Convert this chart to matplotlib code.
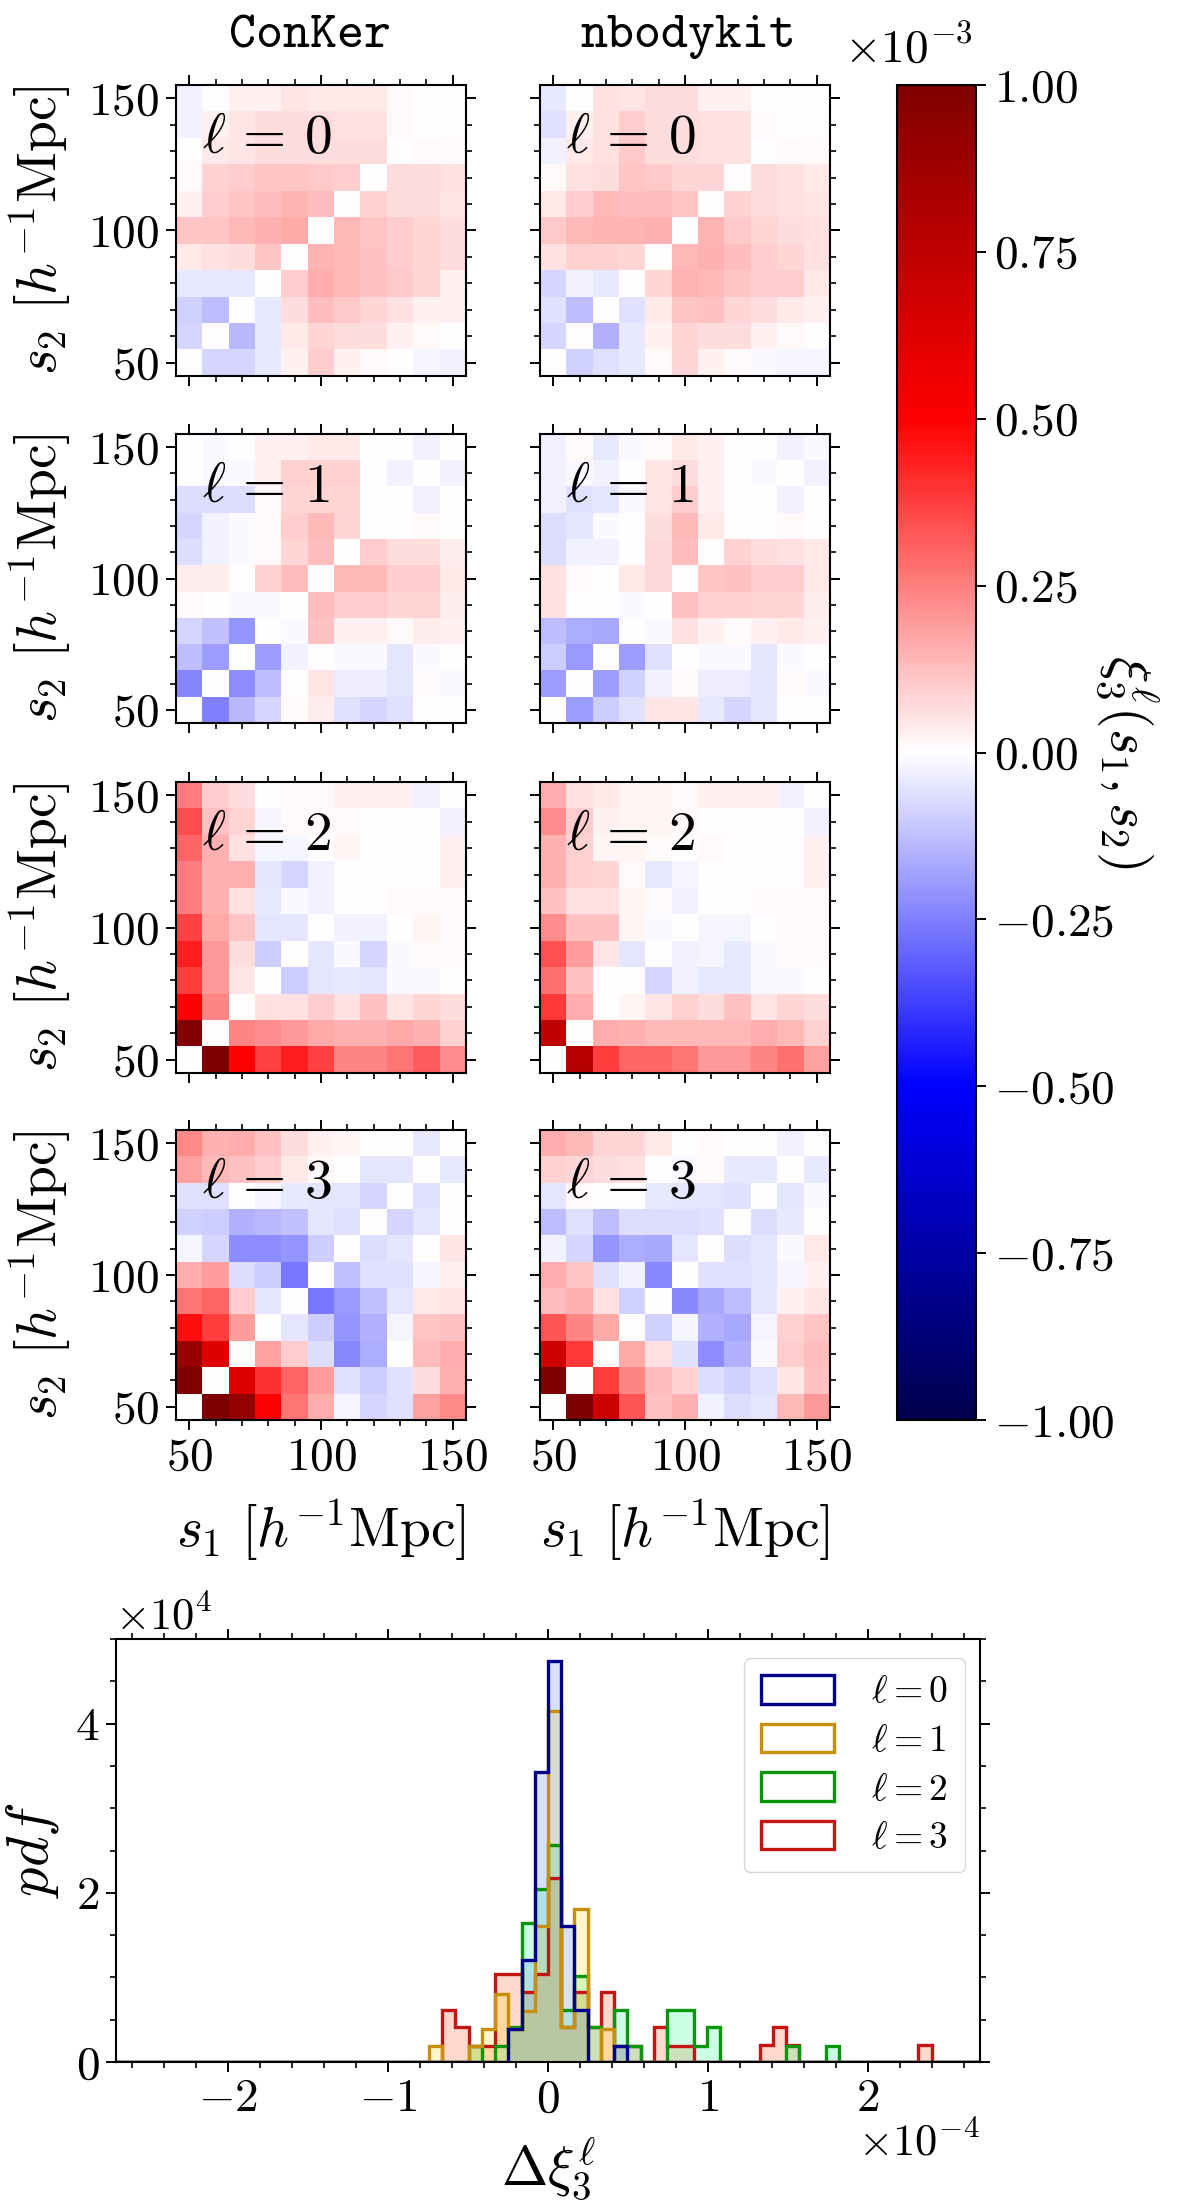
import numpy as np
import matplotlib
matplotlib.use("Agg")
import matplotlib.pyplot as plt
from matplotlib.ticker import MultipleLocator, FuncFormatter

plt.rcParams['font.family'] = 'serif'
plt.rcParams['font.serif'] = ['cmr10']
plt.rcParams['mathtext.fontset'] = 'cm'
plt.rcParams['axes.formatter.use_mathtext'] = True
plt.rcParams['axes.unicode_minus'] = False

# matrices, in units of 1e-5, top row is s2=150
conker_l0 = [
    [-2.5, -0.5, 3, 3, 5, 4.5, 4, 4, 1.5, -0.3, -0.2],
    [-3, 2.5, 5, 6.5, 7, 6.5, 5.5, 5.5, 1.5, 0, -0.2],
    [-0.5, 4, 5, 7, 7, 7, 6.5, 6.5, 0, 1, 1],
    [1.5, 9, 9.5, 11, 11, 10.5, 9.5, 0, 6.5, 6.5, 5.5],
    [3, 9.5, 11, 13, 14.5, 13, 0, 9, 6.5, 6.5, 5],
    [11, 11, 13.5, 15, 17, 0, 13.5, 11, 9.5, 8, 6.5],
    [4, 5.5, 6.5, 11, 0, 14.5, 13.5, 12, 9.5, 8, 6.5],
    [-4.5, -4.5, -4.5, 0, 9.5, 16, 13.5, 12, 10.5, 8, 3],
    [-9, -13, 0, -4, 6.5, 13, 10.5, 8, 5.5, 3, 2.5],
    [-8, 0, -14, -4, 4, 8, 7, 6.5, 2.5, 1.5, -0.3],
    [0, -8, -8, -4, 3, 9.5, 3, 1.5, 0, -2, -3],
]
nbody_l0 = [
    [-4, -0.5, 5.5, 5, 7, 6.5, 3, 3, -0.5, -0.5, 0],
    [-6, 3, 5.5, 9.5, 7, 6.5, 5.5, 5.5, 1.5, 0, -0.5],
    [-3, 4, 5.5, 10.5, 7, 7, 5.5, 5.5, 0, 1, 1],
    [1, 5.5, 7, 11, 10.5, 8, 8, 0, 6.5, 5.5, 4],
    [4, 9.5, 13.5, 13, 13, 11, 0, 9, 7, 5.5, 5],
    [10.5, 13.5, 14.5, 14.5, 15, 0, 14.5, 10.5, 8, 7, 5.5],
    [5.5, 9, 9, 8, 0, 13.5, 15, 13, 9.5, 8, 5.5],
    [-8, -3, -4, 0, 8, 14.5, 13.5, 11, 9.5, 9.5, 4],
    [-6, -13, 0, -6, 4, 11, 12, 8, 6.5, 4, 2.5],
    [-8, 0, -15, -4, 2.5, 8, 7, 6.5, 2.5, 1.5, -0.5],
    [0, -9, -6, -4, 1.5, 8, 3, 1.5, -1, -2, -2],
]
conker_l1 = [
    [0, -1, -0.5, 2.5, 2.5, 4, 4, 0, -0.5, -2.5, 0],
    [0, -1, -1, 2.5, 9, 9, 9, 0.5, -2.5, 0, -2.5],
    [-7, -7, -7, 1, 8.5, 8.5, 8.5, 0, 0, -2.5, 0],
    [-8, -2.5, -1, 1.5, 10, 13.5, 8.5, 0, 0, 1, 0],
    [-7, -2.5, -1, 1.5, 8.5, 13, 0, 10, 7, 7, 3.5],
    [3.5, 3.5, 0, 9, 13, 0, 13.5, 13.5, 10, 10, 4],
    [1.5, 0, -1.5, -1.5, 0, 13, 10, 10, 8.5, 8.5, 3.5],
    [-8.5, -12, -21, 0, -1.5, 12, 2.5, 2.5, 1.5, 3.5, 2.5],
    [-13, -19, 0, -19, -2.5, 0, -1.5, -1.5, -5, -1.5, 0],
    [-24, 0, -22, -13, 0, 5, -3.5, -3.5, -5, 1, -1],
    [0, -25, -14, -8, 1.5, 3.5, -6, -8, -6, 0, 0],
]
nbody_l1 = [
    [-2.5, 1.5, -4, -1.5, 1.5, 4, 2.5, -0.5, -0.5, -2.5, -1],
    [-2.5, -1, -2.5, 0, 5, 7, 2.5, -0.5, -1.5, 0, -2.5],
    [-2.5, -6, -5, -1.5, 5, 10, 2.5, -0.5, -0.5, -2.5, 0],
    [-7, -5, -1.5, 0, 7, 13.5, 4, 0, 0, 1, 0],
    [-7, -2.5, -2.5, 0, 7.5, 13, 0, 9, 7, 6, 4],
    [6, 1, 0, 4, 7.5, 0, 11, 12, 10, 10, 4],
    [6, 0, 0, -1, 0, 12, 9, 9, 8.5, 8.5, 3.5],
    [-13, -16, -17, 0, -1.5, 6, 2.5, 1.5, 2.5, 4, 2.5],
    [-10, -20, 0, -19, -6, 0, -1, -1, -5, -1.5, 0],
    [-19, 0, -19, -9, -2.5, 1.5, -3.5, -3.5, -5, 1, -1],
    [0, -19, -10, -6, 5, 5, -4, -8, -5, 0, -0.5],
]
conker_l2 = [
    [25, 10, 7, 0, 1, 1, 3, 3, 3, -3, 0],
    [35, 12, 8, -2, 1, 1, 1, 0, 0, 0, -3],
    [30, 15, 6, -2, -2, 0, 2, 0, 0, 0, 3],
    [25, 15, 15, -5, -8, -3, 0, 0, 0, 0, 3],
    [25, 15, 6, -4, -1.5, -3, 0, 0, 1, 1, 1],
    [37, 17, 11, -5, -5, 0, -3, -3, 0, 2, 1],
    [44, 20, 7, -10, 0, -5, -1.5, -8, -1, 1, 1],
    [38, 20, 5, 0, -10, -5, -4, -5, -1, -1, 0],
    [50, 24, 0, 6, 6, 10, 6, 12, 5, 8, 7],
    [98, 0, 24, 22, 20, 17, 15, 15, 17, 15, 9],
    [0, 100, 50, 37, 44, 37, 24, 24, 27, 32, 22],
]
nbody_l2 = [
    [16, 6, 4, 2, 2, 1, 3, 3, 3, -3, 0],
    [22, 10, 3, 2, 2, 1, 0, -0.5, 0, 0, -3],
    [15, 9, 2, 2, 1, 0, 1, 0, 0, 0, 3],
    [15, 9, 8, 1, -4, -2, 0, 0, 0, 0, 3],
    [12, 6, 6, 2, 1, -3, 0, 0, 1, 1, 1],
    [22, 12, 12, 2, -1, 0, -2, -2, 0, 1, 1],
    [34, 19, 5, -5, 0, -3, -2, -4, -1, 1, 1],
    [28, 12, 0, 0, -8, -3, -4, -4, -1, -1, 0],
    [39, 16, 0, 2, 5, 9, 7, 12, 5, 8, 7],
    [75, 0, 16, 15, 14, 14, 14, 14, 16, 14, 9],
    [0, 78, 38, 30, 30, 27, 20, 20, 24, 28, 18],
]
conker_l3 = [
    [23, 15, 16, 12, 7, 3, 2, 0, 0, -4, 0],
    [18, 14, 12, 10, 4, 1, 0, -5, -5, 0, -4],
    [-6, -6, 0, -2, -4, -5, -5, -8, 0, -6, 0],
    [-9, -10, -15, -14, -12, -5, -6, 0, -8, -5, 0],
    [-2, -8, -22, -22, -21, -10, 0, -7, -5, 0, 5],
    [16, 19, -7, -10, -26, 0, -12, -6, -6, -2, 3],
    [27, 30, 10, -5, 0, -26, -20, -12, -5, 4, 5],
    [47, 38, 19, 0, -5, -10, -21, -15, -2, 11, 12],
    [90, 63, 0, 18, 10, -7, -23, -16, 0, 13, 16],
    [100, 0, 63, 40, 30, 19, -6, -10, -6, 7, 15],
    [0, 100, 92, 50, 27, 16, -2, -8, -6, 18, 23],
]
nbody_l3 = [
    [16, 14, 8, 8, 4, 0, 1, 0, 0, -3, 0],
    [9, 8, 7, 6, 0, -1, 1, -4, -4, 0, -4],
    [-5, 1, 0, 0, -4, -5, -5, -6, 0, -5, -1],
    [-13, -6, -13, -7, -7, -7, -6, 0, -7, -4, 0],
    [-3, -8, -21, -16, -17, -5, 0, -7, -5, -1, 4],
    [16, 11, -6, -3, -23, 0, -6, -6, -5, -2, 3],
    [13, 15, 6, -9, 0, -23, -17, -13, -5, 3, 5],
    [33, 24, 17, 0, -9, -2, -15, -17, -2, 9, 11],
    [68, 39, 0, 17, 6, -6, -22, -15, -1, 10, 13],
    [100, 0, 38, 24, 13, 9, -7, -9, -6, 5, 12],
    [0, 100, 70, 33, 12, 15, -3, -7, -5, 14, 20],
]

# histogram heights (units of 1e4), bins -10 ... 28, width 0.0827e-4
pdf_l0 = [0, 0, 0, 0, 0, 0, 0, .39, 1.2, 3.43, 4.74, 1.61, .61, 0, 0, .19, 0, 0, 0, 0,
          0, 0, 0, 0, 0, 0, 0, 0, 0, 0, 0, 0, 0, 0, 0, 0, 0, 0, 0]
pdf_l1 = [0, .19, 0, 0, .19, .39, .8, .39, .6, 1.61, 4.15, .41, 1.81, 0, .39, 0, 0, 0, 0, 0,
          0, 0, 0, 0, 0, 0, 0, 0, 0, 0, 0, 0, 0, 0, 0, 0, 0, 0, 0]
pdf_l2 = [0, 0, 0, 0, .19, 0, .19, .41, 1.64, 2.05, 2.56, .61, 1.02, .41, 0, .61, .19, 0, 0, .61,
          .61, .19, .41, 0, 0, 0, 0, 0, .19, 0, 0, .19, 0, 0, 0, 0, 0, 0, 0]
pdf_l3 = [0, 0, .62, .41, .19, .19, 1.04, 1.04, .83, 1.04, 2.18, .41, .83, .41, .83, .19, .19, 0, .41, .19,
          .19, 0, 0, 0, 0, 0, .2, .41, .2, 0, 0, 0, 0, 0, 0, 0, 0, 0, .2]

bin_width = 0.0827
edge_colors = ['#00008b', '#c8900a', '#0a960a', '#c41414']
fill_colors = ['royalblue', 'gold', 'springgreen', 'orangered']
legend_labels = [r'$\ell=0$', r'$\ell=1$', r'$\ell=2$', r'$\ell=3$']

W, H = 1200, 2206


def add_px_axes(fig, x0, y0, x1, y1):
    # pixel box measured from the top left of the picture
    return fig.add_axes([x0 / W, 1 - y1 / H, (x1 - x0) / W, (y1 - y0) / H])


def style_axes(ax):
    for s in ax.spines.values():
        s.set_linewidth(1.5)
    ax.tick_params(which='both', direction='out', top=True, right=True)
    ax.tick_params(which='major', length=7, width=1.4, labelsize=34, pad=5)
    ax.tick_params(which='minor', length=4.5, width=1.2)


fig = plt.figure(figsize=(W / 100, H / 100), dpi=100)

rows = [(85, 376), (434, 723), (782, 1073), (1130, 1420)]
cols = [(176, 466), (540, 830)]
panels = [[conker_l0, nbody_l0], [conker_l1, nbody_l1], [conker_l2, nbody_l2], [conker_l3, nbody_l3]]
xlab = r'$s_1\ [h^{-1}{\rm Mpc}]$'
ylab = r'$s_2\ [h^{-1}{\rm Mpc}]$'

for i, (top, bottom) in enumerate(rows):
    for j, (left, right) in enumerate(cols):
        ax = add_px_axes(fig, left, top, right, bottom)
        im = ax.imshow(np.array(panels[i][j]) * 0.01, cmap='seismic', vmin=-1, vmax=1,
                       extent=[45, 155, 45, 155], origin='upper', aspect='auto',
                       interpolation='nearest')
        style_axes(ax)
        ax.xaxis.set_major_locator(MultipleLocator(50))
        ax.xaxis.set_minor_locator(MultipleLocator(10))
        ax.yaxis.set_major_locator(MultipleLocator(50))
        ax.yaxis.set_minor_locator(MultipleLocator(10))
        ax.xaxis.set_major_formatter(FuncFormatter(lambda v, p: r'$%d$' % v))
        ax.yaxis.set_major_formatter(FuncFormatter(lambda v, p: r'$%d$' % v))
        ax.text(0.09, 0.766, r'$\ell\,=\,%d$' % i, transform=ax.transAxes, fontsize=40, va='baseline')
        if i == 3:
            ax.set_xlabel(xlab, fontsize=40, labelpad=14)
        else:
            ax.tick_params(axis='x', labelbottom=False)
        if j == 0:
            ax.set_ylabel(ylab, fontsize=40, labelpad=10)
        else:
            ax.tick_params(axis='y', labelleft=False)

fig.text(310 / W, 1 - 47 / H, 'ConKer', family='cmtt10', fontsize=37, ha='center', va='baseline')
fig.text(688 / W, 1 - 47 / H, 'nbodykit', family='cmtt10', fontsize=37, ha='center', va='baseline')

# colour bar
cax = add_px_axes(fig, 897, 85, 976, 1420)
cb = fig.colorbar(im, cax=cax, ticks=np.arange(-1, 1.01, 0.25))
cb.ax.yaxis.set_major_formatter(FuncFormatter(lambda v, p: r'$%.2f$' % v))
cb.ax.tick_params(length=7, width=1.4, labelsize=34, pad=6)
cb.outline.set_linewidth(1.5)
fig.text(844 / W, 1 - 62 / H, r'$\times 10^{-3}$', fontsize=34, va='baseline')
fig.text(1128 / W, 1 - 762 / H, r'$\xi_3^{\ell}(s_1,s_2)$', fontsize=40, rotation=270,
         ha='center', va='center')

# histogram
hax = add_px_axes(fig, 116, 1639, 980, 2062)
edges = bin_width * np.arange(-33, 34)
centers = 0.5 * (edges[:-1] + edges[1:])
pdfs = [pdf_l0, pdf_l1, pdf_l2, pdf_l3]
for k in [3, 2, 1, 0]:
    vals = np.pad(np.array(pdfs[k], dtype=float), (23, 4))
    hax.hist(centers, bins=edges, weights=vals, histtype='step', color=edge_colors[k],
             lw=2.4, label=legend_labels[k])
    hax.hist(centers, bins=edges, weights=vals, histtype='stepfilled', color=fill_colors[k],
             alpha=0.2, lw=0)
hax.set_xlim(-2.7, 2.7)
hax.set_ylim(0, 5)
style_axes(hax)
hax.xaxis.set_major_locator(MultipleLocator(1))
hax.xaxis.set_minor_locator(MultipleLocator(0.2))
hax.yaxis.set_major_locator(MultipleLocator(2))
hax.yaxis.set_minor_locator(MultipleLocator(0.5))
hax.xaxis.set_major_formatter(FuncFormatter(lambda v, p: r'$%d$' % v))
hax.yaxis.set_major_formatter(FuncFormatter(lambda v, p: r'$%d$' % v))
hax.set_xlabel(r'$\Delta\xi_3^{\ell}$', fontsize=40, labelpad=10)
hax.set_ylabel(r'$pdf$', fontsize=42, labelpad=10)
handles, labels = hax.get_legend_handles_labels()
hax.legend(handles[::-1], labels[::-1], loc='upper right', fontsize=27, bbox_to_anchor=(0.983, 0.955),
           borderaxespad=0, handlelength=1.95, handleheight=0.8, labelspacing=0.38,
           handletextpad=1.0, borderpad=0.45)
fig.text(115 / W, 1 - 1630 / H, r'$\times 10^{4}$', fontsize=32, va='baseline')
fig.text(858 / W, 1 - 2155 / H, r'$\times 10^{-4}$', fontsize=32, va='baseline')

fig.savefig('out.png', dpi=100)
